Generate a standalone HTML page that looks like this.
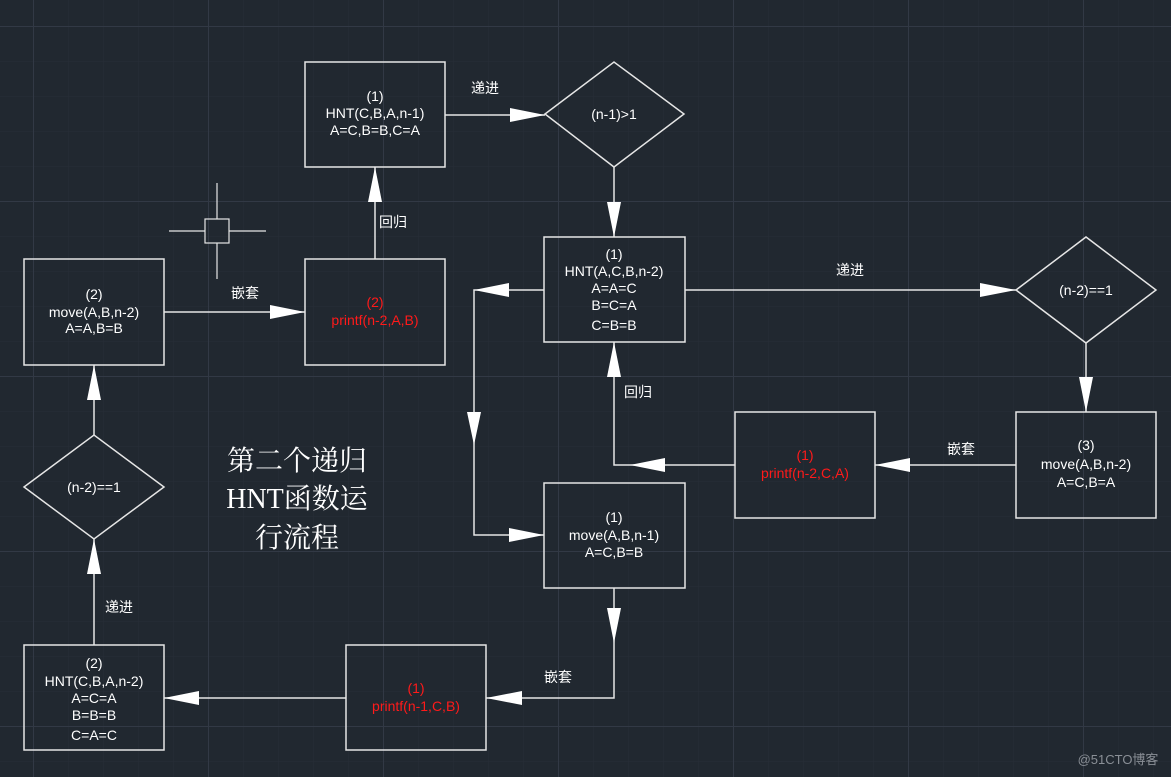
<!DOCTYPE html>
<html><head><meta charset="utf-8"><style>
html,body{margin:0;padding:0;background:#212830;}
svg{display:block}
text{font-family:"Liberation Sans","Noto Sans CJK SC",sans-serif;font-size:14px;fill:#fff;text-anchor:middle}
.r{fill:#ff1a1a}
</style></head><body>
<svg width="1171" height="777" viewBox="0 0 1171 777" xmlns="http://www.w3.org/2000/svg">
<defs>
<pattern id="mn" width="35" height="35" patternUnits="userSpaceOnUse" x="-2" y="-9">
<path d="M0 0H35M0 0V35" stroke="#272e37" stroke-width="1" fill="none"/>
</pattern>
<pattern id="mj" width="175" height="175" patternUnits="userSpaceOnUse" x="33" y="26">
<path d="M0 0.5H175M0.5 0V175" stroke="#323945" stroke-width="1" fill="none"/>
</pattern>
</defs>
<rect width="1171" height="777" fill="#212830"/>
<rect width="1171" height="777" fill="url(#mn)"/>
<rect width="1171" height="777" fill="url(#mj)"/>
<g stroke="#e6e6e6" stroke-width="1.5" fill="none">
<rect x="305" y="62" width="140" height="105"/>
<rect x="544" y="237" width="141" height="105"/>
<rect x="1016" y="412" width="140" height="106"/>
<rect x="735" y="412" width="140" height="106"/>
<rect x="544" y="483" width="141" height="105"/>
<rect x="346" y="645" width="140" height="105"/>
<rect x="24" y="645" width="140" height="105"/>
<rect x="24" y="259" width="140" height="106"/>
<rect x="305" y="259" width="140" height="106"/>
<polygon points="545,114 614,62 684,114 614,167"/>
<polygon points="1016,290 1086,237 1156,290 1086,343"/>
<polygon points="24,487 94,435 164,487 94,539"/>
<path d="M445 115H545M614 167V237M685 290H1016M1086 343V412M1016 465H875M735 465H614V342M544 290H474V535H544M614 588V698H486M346 698H164M94 645V539M94 435V365M164 312H305M375 259V167"/>
<path d="M169 231H205M229 231H266M217 183V219M217 243V279" stroke-width="1.2"/>
<rect x="205" y="219" width="24" height="24" stroke-width="1.2"/>
</g>
<g fill="#fff">
<polygon points="545,115 510,108 510,122"/>
<polygon points="614,237 607,202 621,202"/>
<polygon points="1016,290 980,283 980,297"/>
<polygon points="1086,412 1079,377 1093,377"/>
<polygon points="875,465 910,458 910,472"/>
<polygon points="630,465 665,458 665,472"/>
<polygon points="614,342 607,377 621,377"/>
<polygon points="474,290 509,283 509,297"/>
<polygon points="474,445 467,412 481,412"/>
<polygon points="544,535 509,528 509,542"/>
<polygon points="614,643 607,608 621,608"/>
<polygon points="486,698 522,691 522,705"/>
<polygon points="164,698 199,691 199,705"/>
<polygon points="94,539 87,574 101,574"/>
<polygon points="94,365 87,400 101,400"/>
<polygon points="305,312 270,305 270,319"/>
<polygon points="375,167 368,202 382,202"/>
</g>
<text x="375" y="101">(1)</text><text x="375" y="118">HNT(C,B,A,n-1)</text><text x="375" y="135">A=C,B=B,C=A</text>
<text x="485" y="93">递进</text>
<text x="614" y="119">(n-1)&gt;1</text>
<text x="614" y="259">(1)</text><text x="614" y="276">HNT(A,C,B,n-2)</text><text x="614" y="293">A=A=C</text><text x="614" y="310">B=C=A</text><text x="614" y="330">C=B=B</text>
<text x="850" y="275">递进</text>
<text x="1086" y="295">(n-2)==1</text>
<text x="1086" y="450">(3)</text><text x="1086" y="469">move(A,B,n-2)</text><text x="1086" y="487">A=C,B=A</text>
<text x="961" y="454">嵌套</text>
<text class="r" x="805" y="460">(1)</text><text class="r" x="805" y="478">printf(n-2,C,A)</text>
<text x="638" y="397">回归</text>
<text x="614" y="522">(1)</text><text x="614" y="540">move(A,B,n-1)</text><text x="614" y="557">A=C,B=B</text>
<text x="558" y="682">嵌套</text>
<text class="r" x="416" y="693">(1)</text><text class="r" x="416" y="711">printf(n-1,C,B)</text>
<text x="94" y="668">(2)</text><text x="94" y="686">HNT(C,B,A,n-2)</text><text x="94" y="703">A=C=A</text><text x="94" y="720">B=B=B</text><text x="94" y="740">C=A=C</text>
<text x="119" y="612">递进</text>
<text x="94" y="492">(n-2)==1</text>
<text x="94" y="299">(2)</text><text x="94" y="317">move(A,B,n-2)</text><text x="94" y="333">A=A,B=B</text>
<text x="245" y="298">嵌套</text>
<text class="r" x="375" y="307">(2)</text><text class="r" x="375" y="325">printf(n-2,A,B)</text>
<text x="393" y="227">回归</text>
<g style="font-family:'Liberation Serif','Noto Serif CJK SC',serif;font-size:28px" fill="#e8e8e8">
<text x="297" y="470" style="font-size:28px;font-family:'Liberation Serif','Noto Serif CJK SC',serif" fill="#e8e8e8">第二个递归</text>
<text x="297" y="508" style="font-size:28px;font-family:'Liberation Serif','Noto Serif CJK SC',serif" fill="#e8e8e8">HNT函数运</text>
<text x="297" y="547" style="font-size:28px;font-family:'Liberation Serif','Noto Serif CJK SC',serif" fill="#e8e8e8">行流程</text>
</g>
<text x="1118" y="764" style="font-size:13px;fill:#8a8f96">@51CTO博客</text>
</svg>
</body></html>
